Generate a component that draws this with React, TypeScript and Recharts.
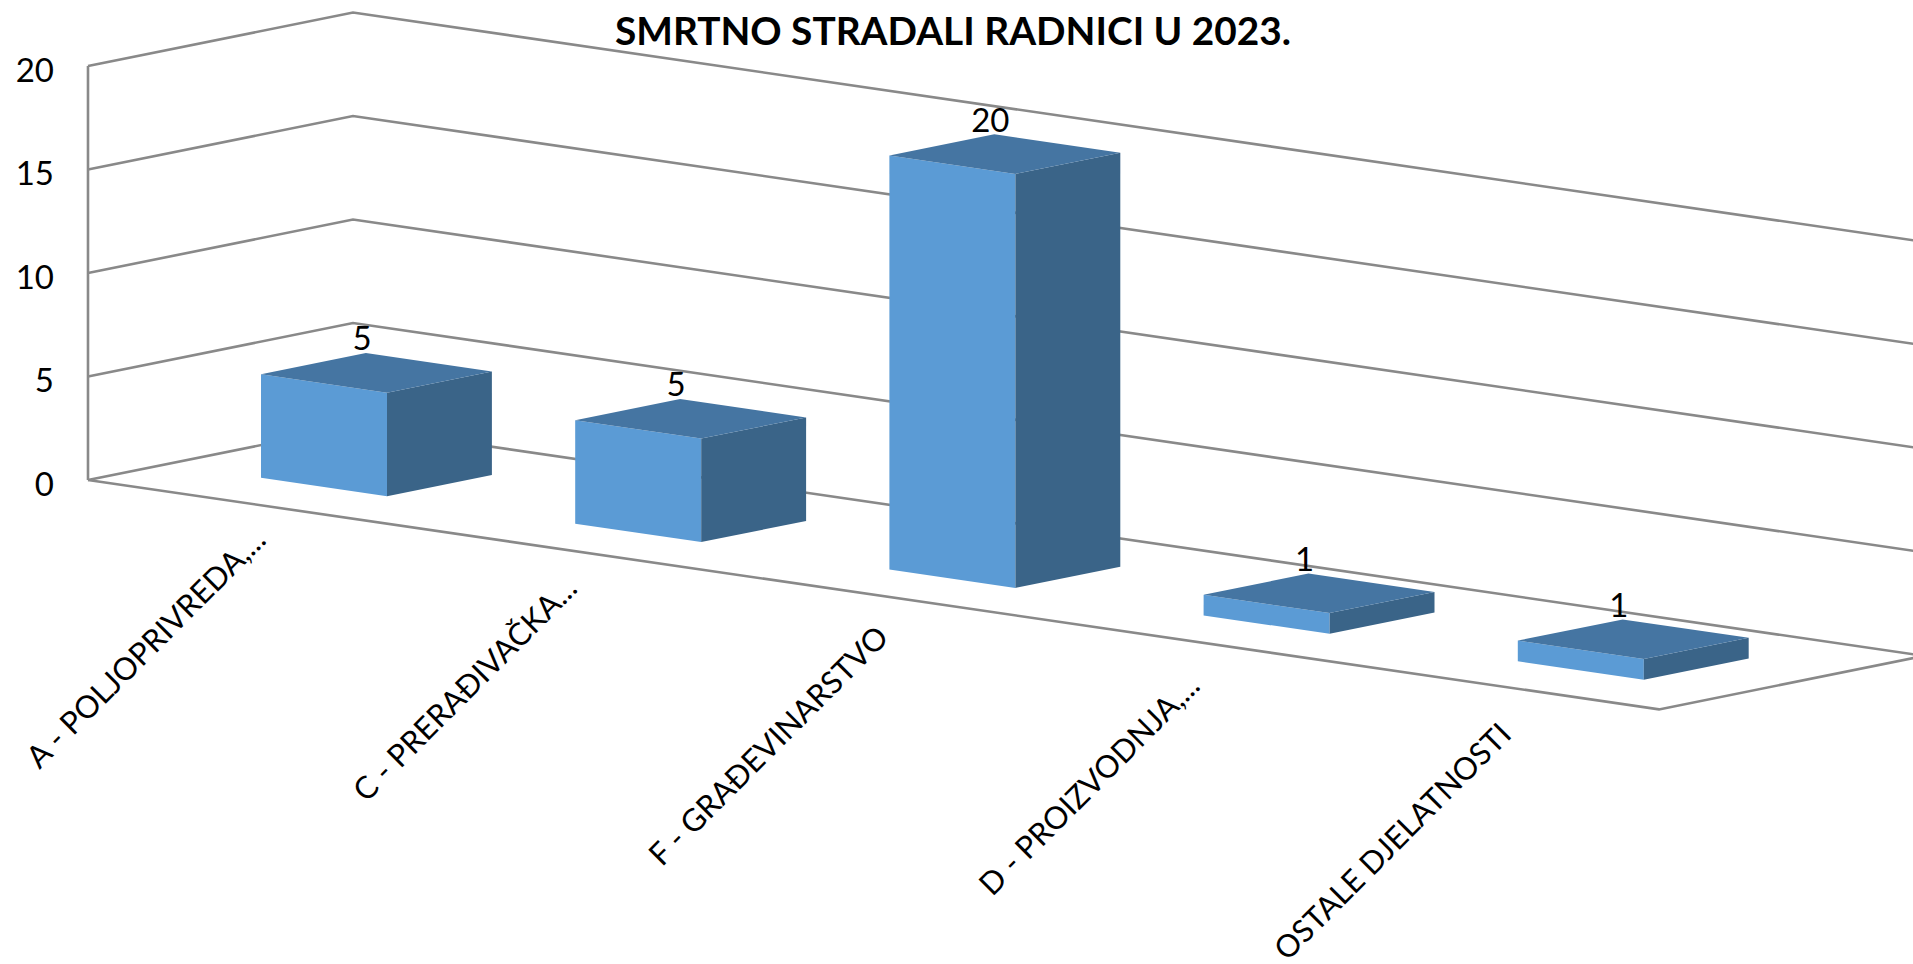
import { BarChart, Bar, XAxis, YAxis, CartesianGrid, LabelList } from "recharts";

const categories = [
  "A - POLJOPRIVREDA,...",
  "C - PRERAĐIVAČKA...",
  "F - GRAĐEVINARSTVO",
  "D - PROIZVODNJA,...",
  "OSTALE DJELATNOSTI",
];
const deaths = [5, 5, 20, 1, 1];
const yTicks = [0, 5, 10, 15, 20];
const chartTitle = "SMRTNO STRADALI RADNICI U 2023.";

const rows = categories.map((name, i) => ({ name, deaths: deaths[i] }));

const FONT = "Lato, sans-serif";
const PLOT_LEFT = 88;
const PLOT_RIGHT = 1659;
const GRID = "#898989";

// fake 3D: front edge runs downhill, depth goes up and to the right
const SLOPE = 0.146;
const DEPTH_X = 265;
const DEPTH_Y = -53.5;
const BAR_T0 = 0.298;
const BAR_T1 = 0.694;

function project(x: number, y: number, t: number) {
  return [x + DEPTH_X * t, y + (x - PLOT_LEFT) * SLOPE + DEPTH_Y * t];
}

function pts(list: number[][]) {
  return list.map((p) => `${p[0].toFixed(1)},${p[1].toFixed(1)}`).join(" ");
}

function Box3D(props: any) {
  const { x, y, width, height } = props;
  const bottom = y + height;
  const right = x + width;
  const fl = project(x, y, BAR_T0);
  const fr = project(right, y, BAR_T0);
  const frb = project(right, bottom, BAR_T0);
  const flb = project(x, bottom, BAR_T0);
  const bl = project(x, y, BAR_T1);
  const br = project(right, y, BAR_T1);
  const brb = project(right, bottom, BAR_T1);
  return (
    <g>
      <polygon points={pts([fl, fr, frb, flb])} fill="#5B9BD5" />
      <polygon points={pts([fr, br, brb, frb])} fill="#3A6488" />
      <polygon points={pts([fl, bl, br, fr])} fill="#4575A2" />
    </g>
  );
}

function ValueLabel(props: any) {
  const { x, y, value } = props;
  const [sx, sy] = project(x, y, BAR_T0);
  return (
    <text x={sx + 101} y={sy - 37} textAnchor="middle" dominantBaseline="central" fontFamily={FONT} fontSize={33} fill="#000">
      {value}
    </text>
  );
}

function GridLevel(props: any) {
  const { x1, y1 } = props;
  const level = y1;
  const back = [x1 + DEPTH_X, level + DEPTH_Y];
  const far = [back[0] + 1800, back[1] + 1800 * SLOPE];
  const isFloor = Math.abs(props.y1 - (props.offset?.top + props.offset?.height)) < 1;
  return (
    <g>
      <polyline points={pts([[x1, level], back, far])} fill="none" stroke={GRID} strokeWidth={2.6} />
      {isFloor && (
        <polyline
          points={pts([
            [x1, level],
            [PLOT_RIGHT, level + (PLOT_RIGHT - PLOT_LEFT) * SLOPE],
            [PLOT_RIGHT + DEPTH_X, level + (PLOT_RIGHT - PLOT_LEFT) * SLOPE + DEPTH_Y],
          ])}
          fill="none"
          stroke={GRID}
          strokeWidth={2.6}
        />
      )}
    </g>
  );
}

function SlantTick(props: any) {
  const { x, y, payload } = props;
  const ex = x + 14 - (x - 245) * 0.009;
  const ey = y + (x - PLOT_LEFT) * 0.1548 + 21;
  return (
    <text
      x={ex}
      y={ey}
      textAnchor="end"
      dominantBaseline="central"
      transform={`rotate(-45 ${ex} ${ey})`}
      fontFamily={FONT}
      fontSize={31}
      fill="#000"
    >
      {payload.value}
    </text>
  );
}

function YTick(props: any) {
  const { x, y, payload } = props;
  return (
    <text x={x} y={y + 2.5} textAnchor="end" dominantBaseline="central" fontFamily={FONT} fontSize={33} fill="#000">
      {payload.value}
    </text>
  );
}

export default function App() {
  return (
    <div style={{ position: "absolute", left: 0, top: 0, width: 1913, height: 964, overflow: "hidden", background: "#fff" }}>
      <BarChart
        width={1913}
        height={964}
        data={rows}
        barSize={126}
        margin={{ top: 66, right: 254, bottom: 0, left: 0 }}
      >
        <CartesianGrid vertical={false} horizontal={(p: any) => <GridLevel key={p.key ?? p.index} {...p} />} />
        <XAxis dataKey="name" interval={0} height={484} axisLine={false} tickLine={false} tick={<SlantTick />} />
        <YAxis
          width={88}
          domain={[0, 20]}
          ticks={yTicks}
          tickSize={0}
          tickMargin={34}
          axisLine={{ stroke: GRID, strokeWidth: 2.6 }}
          tick={<YTick />}
        />
        <Bar dataKey="deaths" shape={<Box3D />} isAnimationActive={false}>
          <LabelList dataKey="deaths" content={<ValueLabel />} />
        </Bar>
      </BarChart>
      <div
        style={{
          position: "absolute",
          left: 615,
          top: 9,
          fontFamily: FONT,
          fontWeight: 700,
          fontSize: 38.8,
          lineHeight: "42px",
          whiteSpace: "nowrap",
          color: "#000",
        }}
      >
        {chartTitle}
      </div>
    </div>
  );
}
